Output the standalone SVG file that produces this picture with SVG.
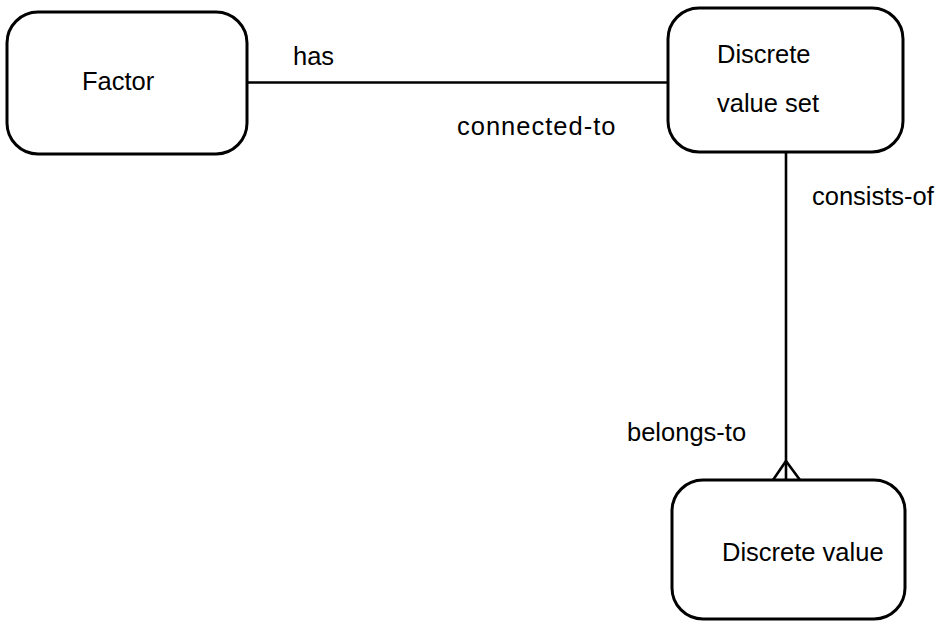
<svg xmlns="http://www.w3.org/2000/svg" width="945" height="621" viewBox="0 0 945 621">
  <style>
    .entity { fill: #ffffff; stroke: #000000; stroke-width: 3; }
    .link { fill: none; stroke: #000000; stroke-width: 2.6; stroke-linejoin: round; }
    text { font-family: "Liberation Sans", Arial, Helvetica, sans-serif; font-size: 25.5px; fill: #000000; }
  </style>
  <rect width="945" height="621" fill="#ffffff"/>

  <g id="connectors">
    <!-- Factor to Discrete value set -->
    <line class="link" x1="247" y1="82.5" x2="668" y2="82.5"/>
    <!-- Discrete value set to Discrete value, many end with a crow's foot -->
    <line class="link" x1="786" y1="152" x2="786" y2="480"/>
    <polyline class="link" points="773,480 786,461 800,480"/>
    <text x="293" y="65">has</text>
    <text x="457" y="135" letter-spacing="1">connected-to</text>
    <text x="812" y="205">consists-of</text>
    <text x="627" y="441">belongs-to</text>
  </g>

  <g id="factor">
    <rect class="entity" x="7" y="12" width="240" height="142" rx="31" ry="31"/>
    <text x="82" y="90">Factor</text>
  </g>

  <g id="discrete-value-set">
    <rect class="entity" x="668" y="8" width="235" height="144" rx="31" ry="31"/>
    <text x="717" y="63">Discrete</text>
    <text x="717" y="112">value set</text>
  </g>

  <g id="discrete-value">
    <rect class="entity" x="672" y="480" width="233" height="139" rx="31" ry="31"/>
    <text x="722" y="561">Discrete value</text>
  </g>
</svg>
